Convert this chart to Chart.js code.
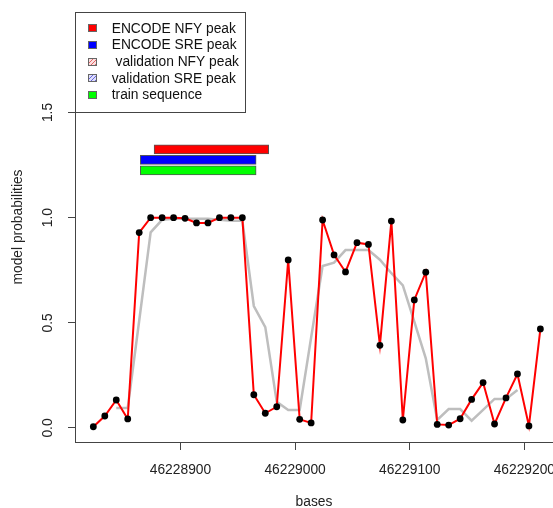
<!DOCTYPE html>
<html><head><meta charset="utf-8">
<script src="https://cdn.jsdelivr.net/npm/chart.js@4/dist/chart.umd.min.js"></script>
<style>html,body{margin:0;padding:0;background:#fff;overflow:hidden}canvas{display:block}</style>
</head><body>
<canvas id="c" width="553" height="508"></canvas>
<script>
// ---- data ----
const positions = [46228824,46228834,46228844,46228854,46228864,46228874,46228884,46228894,46228904,46228914,
  46228924,46228934,46228944,46228954,46228964,46228974,46228984,46228994,46229004,46229014,
  46229024,46229034,46229044,46229054,46229064,46229074,46229084,46229094,46229104,46229114,
  46229124,46229134,46229144,46229154,46229164,46229174,46229184,46229194,46229204,46229214];
const modelRed = [0.006,0.057,0.133,0.043,0.929,1.0,1.0,1.0,0.997,0.975,
  0.975,1.0,1.0,1.0,0.158,0.07,0.101,0.799,0.041,0.024,
  0.989,0.823,0.742,0.881,0.873,0.393,0.984,0.038,0.609,0.741,
  0.017,0.014,0.044,0.136,0.216,0.019,0.143,0.257,0.01,0.471];
const modelGray = [null,null,0.095,0.095,0.51,0.93,0.99,0.995,0.995,0.995,
  0.995,0.99,0.985,0.985,0.58,0.48,0.125,0.086,0.086,0.43,
  0.77,0.786,0.846,0.846,0.846,0.8,0.736,0.678,0.506,0.331,
  0.038,0.09,0.09,0.035,0.086,0.138,0.138,0.181,null,null];
const xTicks = [46228900,46229000,46229100,46229200];
const yTicks = [0,0.5,1,1.5];
const yTickLabels = ['0.0','0.5','1.0','1.5'];
const peakNames = ['ENCODE NFY peak','ENCODE SRE peak','train sequence'];
const peakStart = [46228877,46228865,46228865];
const peakEnd = [46228977,46228966,46228966];
const peakLevel = [1.325,1.275,1.225];
const legendLabels = ['ENCODE NFY peak','ENCODE SRE peak',' validation NFY peak','validation SRE peak','train sequence'];
const xTitle = 'bases';
const yTitle = 'model probabilities';

// ---- styles ----
const FONT = '"Liberation Sans", Arial, sans-serif';
const FS = 13.8;
function hatch(bg, line){
  const c = document.createElement('canvas'); c.width = 4; c.height = 4;
  const g = c.getContext('2d');
  g.fillStyle = bg; g.fillRect(0,0,4,4);
  g.strokeStyle = line; g.lineWidth = 1;
  g.beginPath(); g.moveTo(0,4); g.lineTo(4,0); g.moveTo(-1,1); g.lineTo(1,-1); g.moveTo(3,5); g.lineTo(5,3); g.stroke();
  return document.createElement('canvas').getContext('2d').createPattern(c,'repeat');
}
const legendFills = ['#FF0000','#0000FF',hatch('#fbdede','#e06666'),hatch('#dedefb','#6666dd'),'#00FF00'];
const peakColors = ['#FF0000','#0000FF','#00FF00'];

const overlay = {
  id:'overlay',
  afterDraw(chart){
    const ctx = chart.ctx, a = chart.chartArea, ys = chart.scales.y;
    ctx.save();
    // y tick labels (rotated)
    ctx.fillStyle = '#222'; ctx.font = FS + 'px ' + FONT;
    ctx.textAlign = 'center'; ctx.textBaseline = 'middle';
    yTicks.forEach((v,i)=>{
      const py = ys.getPixelForValue(v);
      ctx.save(); ctx.translate(48.5, py); ctx.rotate(-Math.PI/2);
      ctx.fillText(yTickLabels[i], 0, 0); ctx.restore();
    });
    // legend
    const x0 = a.left, y0 = a.top, w = 170, h = 100;
    ctx.fillStyle = '#fff'; ctx.fillRect(x0, y0, w, h);
    ctx.strokeStyle = '#444'; ctx.lineWidth = 1;
    ctx.strokeRect(x0 + 0.5, y0 + 0.5, w, h);
    ctx.textAlign = 'left';
    legendLabels.forEach((t,i)=>{
      const cy = y0 + 16.3 + 16.7*i;
      ctx.fillStyle = legendFills[i];
      ctx.fillRect(x0 + 13, Math.round(cy - 4), 9, 8);
      ctx.strokeStyle = '#666';
      ctx.strokeRect(x0 + 13.5, Math.round(cy - 4) + 0.5, 8, 7);
      ctx.fillStyle = '#111';
      ctx.fillText(t, x0 + 36.7, cy + 0.5);
    });
    ctx.restore();
  }
};

new Chart(document.getElementById('c'), {
  type: 'line',
  data: {
    datasets: [
      { label: 'model', data: positions.map((x,i)=>({x, y: modelRed[i]})),
        borderColor: '#FF0000', borderWidth: 2, pointRadius: 3.4, pointBackgroundColor: '#000',
        pointBorderWidth: 0, tension: 0, fill: false },
      { label: 'model 2', data: positions.map((x,i)=>({x, y: modelGray[i]})),
        borderColor: '#BEBEBE', borderWidth: 2.5, pointRadius: 0, tension: 0, fill: false, spanGaps: false },
      { type: 'bar', label: 'peaks', indexAxis: 'y', grouped: false,
        data: peakNames.map((n,i)=>({x: [peakStart[i], peakEnd[i]], y: peakLevel[i]})),
        backgroundColor: peakColors, borderColor: '#555', borderWidth: 1, borderSkipped: false,
        barThickness: 9, maxBarThickness: 9 }
    ]
  },
  options: {
    responsive: false, animation: false, devicePixelRatio: 1,
    layout: { autoPadding: false, padding: { left: 0, right: 0, top: 12, bottom: 0 } },
    plugins: { legend: { display: false }, tooltip: { enabled: false } },
    scales: {
      x: {
        type: 'linear', min: 46228808, max: 46229225, offset: false,
        afterBuildTicks: s => { s.ticks = xTicks.map(v => ({value: v})); },
        afterFit: s => { s.height = 66; s.paddingLeft = 0; s.paddingRight = 0; },
        ticks: { color: '#222', font: { family: FONT, size: FS }, padding: 12, maxRotation: 0, autoSkip: false,
          callback: v => String(v) },
        grid: { offset: false, drawOnChartArea: false, drawTicks: true, tickLength: 8, color: '#444' },
        border: { display: true, color: '#444', width: 1 },
        title: { display: true, text: xTitle, color: '#222', font: { family: FONT, size: FS, lineHeight: 1 }, padding: { top: 0, bottom: -1 } }
      },
      y: {
        type: 'linear', min: -0.0666, max: 1.978, offset: false,
        afterBuildTicks: s => { s.ticks = yTicks.map(v => ({value: v})); },
        afterFit: s => { s.width = 75; s.paddingTop = 0; s.paddingBottom = 0; },
        ticks: { display: false },
        grid: { offset: false, drawOnChartArea: false, drawTicks: true, tickLength: 7, color: '#444' },
        border: { display: true, color: '#444', width: 1 },
        title: { display: true, text: yTitle, color: '#222', font: { family: FONT, size: FS, lineHeight: 1 }, padding: { top: 11.4, bottom: 0 } }
      }
    }
  },
  plugins: [overlay]
});
</script>
</body></html>
